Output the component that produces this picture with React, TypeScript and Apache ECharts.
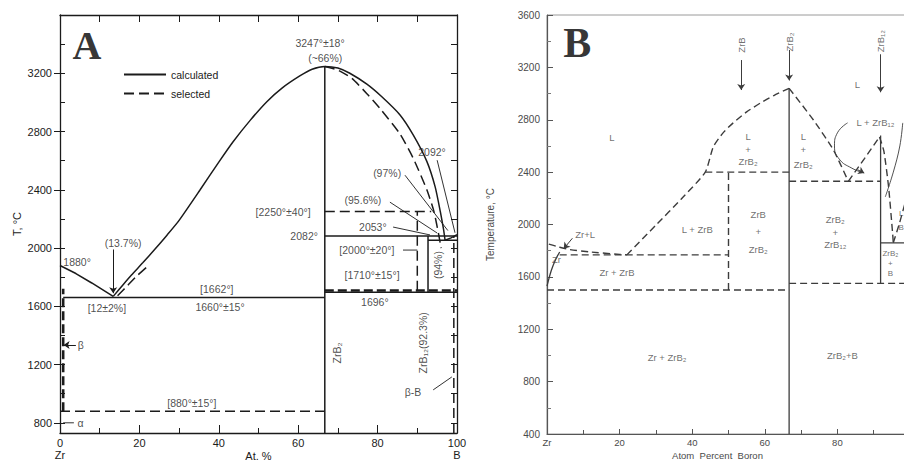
import React, { useEffect, useRef } from 'react';
import * as echarts from 'echarts';

// ---------- Panel A (Zr–B, calculated vs selected) ----------
const aXTicks = [0, 20, 40, 60, 80, 100];
const aYLabels = [800, 1200, 1600, 2000, 2400, 2800, 3200];
const aYMinor = [800, 1000, 1200, 1400, 1600, 1800, 2000, 2200, 2400, 2600, 2800, 3000, 3200, 3400];

const aCalcLeft = [[0, 1880], [4, 1825], [8, 1760], [13.4, 1668]];
const aCalcBell = [
  [13.4, 1668], [16, 1752], [18, 1815], [20.9, 1900], [24, 1995], [27, 2090], [30, 2190],
  [35.3, 2400], [40, 2590], [43.6, 2730], [48, 2880], [52.1, 3005], [56, 3100], [60.4, 3182],
  [63.5, 3228], [66.7, 3247], [70, 3236], [73, 3200], [77.3, 3125], [81, 3040], [85.6, 2915],
  [89, 2775], [92.4, 2595], [94.5, 2420], [95.8, 2250], [96.6, 2130], [97, 2053],
];
const aCalcRight = [[97, 2053], [98.5, 2070], [100, 2092]];
const aSelRight = [
  [66.7, 3247], [70, 3222], [73.5, 3165], [77.3, 3060], [81, 2945], [85.6, 2785], [89, 2615],
  [92.4, 2400], [94.2, 2250], [95.4, 2090], [96, 2000],
];
const aSelLeft = [[14.5, 1672], [17, 1742], [19.5, 1812], [22.5, 1885]];

const aSolidSegs = [
  [0.8, 1660, 66.7, 1660],
  [66.7, 730, 66.7, 3247],
  [66.7, 2082, 100, 2082],
  [66.7, 1696, 100, 1696],
  [92.7, 1696, 92.7, 2082],
  [92.7, 2053, 100, 2053],
];
const aDashedSegs = [
  [0, 880, 66.7, 880],
  [66.7, 2250, 93.5, 2250],
  [90, 1706, 90, 2250],
  [99.2, 730, 99.2, 2082],
];
const aBoldDashedSegs = [
  [66.7, 1708, 100, 1708],
  [0.8, 880, 0.8, 1720],
];
const aLeaderSegs = [
  [95, 2603, 99.5, 2105],
  [86.9, 2500, 97.7, 2120],
  [83.1, 2315, 95, 2103],
  [83.9, 2144, 93.2, 2090],
  [86.4, 1986, 90, 1986],
  [94, 1026, 98.7, 1115],
  [0.8, 800, 3.5, 800],
];
const aArrows = [
  [13.4, 1990, 13.4, 1690],
  [4, 1335, 0.9, 1335],
];
const aLabels = [
  { text: '3247°±18°', x: 65.5, y: 3406 },
  { text: '(~66%)', x: 66.8, y: 3303 },
  { text: '2092°', x: 93.7, y: 2658 },
  { text: '(97%)', x: 82.4, y: 2514 },
  { text: '(95.6%)', x: 76.3, y: 2329 },
  { text: '[2250°±40°]', x: 56.2, y: 2247 },
  { text: '2053°', x: 78.8, y: 2144 },
  { text: '2082°', x: 61.5, y: 2084 },
  { text: '[2000°±20°]', x: 77.3, y: 1986 },
  { text: '[1710°±15°]', x: 78.6, y: 1815 },
  { text: '1696°', x: 79.3, y: 1630 },
  { text: '[1662°]', x: 39.5, y: 1719 },
  { text: '1660°±15°', x: 40.3, y: 1595 },
  { text: '[12±2%]', x: 11.8, y: 1589 },
  { text: '(13.7%)', x: 15.9, y: 2034 },
  { text: '1880°', x: 4.3, y: 1904 },
  { text: '[880°±15°]', x: 33.2, y: 937 },
  { text: 'β-B', x: 88.9, y: 1012 },
  { text: 'β', x: 5.2, y: 1335 },
  { text: 'α', x: 5.2, y: 800 },
];
const aRotLabels = [
  { text: 'ZrB₂', x: 69.8, y: 1280 },
  { text: 'ZrB₁₂(92.3%)', x: 91.4, y: 1349 },
  { text: '(94%)', x: 95.2, y: 1883 },
];
const aTitle = { text: 'A', x: 6.8, y: 3392 };

// ---------- Panel B (Zr–B, assessed) ----------
const bXTicks = [0, 20, 40, 60, 80, 100];
const bYTicks = [400, 800, 1200, 1600, 2000, 2400, 2800, 3200, 3600];

const bLiquidus = [
  [22, 1768], [30, 1995], [37, 2195], [43.6, 2400], [45.8, 2592], [48.5, 2700], [51.3, 2776],
  [55, 2860], [58.8, 2928], [62.5, 2985], [66.7, 3040],
];
const bLiquidus2 = [[66.7, 3040], [73.4, 2798], [78.9, 2569], [83, 2330]];
const bLiquidus3 = [[83, 2330], [87.5, 2505], [91.6, 2669]];
const bLiquidus4 = [[91.6, 2669], [92.8, 2560], [94.1, 2287], [95.2, 1936], [95.4, 1860]];
const bLiquidus5 = [[95.4, 1860], [97, 2000], [98.5, 2150], [100, 2300]];
const bZrSolidus = [[0, 1530], [1.2, 1650], [2.5, 1740], [3.5, 1790]];
const bZrLeft = [[0.5, 1850], [3, 1830], [6, 1810], [12, 1790], [20, 1772], [22, 1768]];
const bLoopLeft = [[82.8, 2776], [80, 2700], [79.2, 2600], [80.5, 2500], [84, 2430], [87.2, 2395]];
const bLoopRight = [[98, 2776], [97.2, 2600], [95.4, 2400], [93.2, 2211]];

const bSolidSegs = [
  [66.7, 400, 66.7, 3040],
  [91.9, 1550, 91.9, 2680],
  [91.9, 1860, 100, 1860],
];
const bDashedSegs = [
  [43.6, 2400, 66.7, 2400],
  [50, 1500, 50, 2400],
  [3.5, 1768, 50, 1768],
  [0, 1500, 66.7, 1500],
  [66.7, 2330, 91.9, 2330],
  [66.7, 1550, 100, 1550],
];
const bArrows = [
  [53.5, 3256, 53.5, 3027],
  [66.7, 3333, 66.7, 3100],
  [91.9, 3300, 91.9, 3010],
  [7, 1895, 4.6, 1815],
  [85.6, 2418, 87.4, 2393],
];
const bLabels = [
  { text: 'L', x: 17.9, y: 2661 },
  { text: 'L', x: 85.5, y: 3066 },
  { text: 'L', x: 55.4, y: 2669 },
  { text: '+', x: 55.4, y: 2569 },
  { text: 'ZrB₂', x: 55.4, y: 2478 },
  { text: 'L', x: 70.6, y: 2669 },
  { text: '+', x: 70.6, y: 2569 },
  { text: 'ZrB₂', x: 70.6, y: 2460 },
  { text: 'ZrB', x: 58.2, y: 2073 },
  { text: '+', x: 58.2, y: 1943 },
  { text: 'ZrB₂', x: 58.2, y: 1806 },
  { text: 'L + ZrB', x: 41.4, y: 1959 },
  { text: 'ZrB₂', x: 79.4, y: 2035 },
  { text: '+', x: 79.4, y: 1936 },
  { text: 'ZrB₁₂', x: 79.4, y: 1844 },
  { text: 'Zr + ZrB', x: 19.3, y: 1630 },
  { text: 'Zr+L', x: 10.5, y: 1921 },
  { text: 'Zr', x: 2.6, y: 1730 },
  { text: 'Zr + ZrB₂', x: 33.1, y: 982 },
  { text: 'ZrB₂+B', x: 81.4, y: 997 },
  { text: 'L + ZrB₁₂', x: 90.5, y: 2776 },
];
const bSmallLabels = [
  { text: 'ZrB₂', x: 94.6, y: 1776 },
  { text: '+', x: 94.6, y: 1700 },
  { text: 'B', x: 94.6, y: 1622 },
  { text: 'L', x: 97.6, y: 2085 },
  { text: 'B', x: 97.6, y: 1980 },
];
const bRotLabels = [
  { text: 'ZrB', x: 53.5, y: 3371 },
  { text: 'ZrB₂', x: 66.7, y: 3394 },
  { text: 'ZrB₁₂', x: 91.9, y: 3400 },
];
const bTitle = { text: 'B', x: 8.3, y: 3386 };

const inkA = '#1b1b1b';
const inkB = '#3c3c3c';
const textB = '#4a4a4a';
const sans = '"Liberation Sans", Arial, sans-serif';
const serif = '"Liberation Serif", "Times New Roman", serif';

function segSeries(segs: number[][], xi: number, yi: number, lineStyle: any) {
  return segs.map((s) => ({
    type: 'line',
    xAxisIndex: xi,
    yAxisIndex: yi,
    data: [[s[0], s[1]], [s[2], s[3]]],
    symbol: 'none',
    silent: true,
    lineStyle,
    z: 3,
  }));
}

function curve(data: number[][], xi: number, yi: number, lineStyle: any, smooth: number, name?: string) {
  return {
    type: 'line',
    name,
    xAxisIndex: xi,
    yAxisIndex: yi,
    data,
    symbol: 'none',
    showSymbol: false,
    smooth,
    silent: true,
    lineStyle,
    itemStyle: { color: lineStyle.color },
    z: 3,
  };
}

function labelSeries(items: any[], xi: number, yi: number, label: any, rotate = 0, arrows?: number[][], arrowColor?: string) {
  const s: any = {
    type: 'scatter',
    xAxisIndex: xi,
    yAxisIndex: yi,
    symbolSize: 0,
    silent: true,
    z: 5,
    data: items.map((d) => ({ value: [d.x, d.y], label: { formatter: d.text } })),
    label: { show: true, position: 'inside', rotate, ...label },
  };
  if (arrows) {
    s.markLine = {
      silent: true,
      animation: false,
      symbolSize: 6,
      label: { show: false },
      lineStyle: { type: 'solid', width: 1, color: arrowColor },
      data: arrows.map((a) => [
        { coord: [a[0], a[1]], symbol: 'none' },
        { coord: [a[2], a[3]], symbol: 'arrow' },
      ]),
    };
  }
  return s;
}

export default function App() {
  const ref = useRef<HTMLDivElement>(null);
  useEffect(() => {
    if (!ref.current) return;
    const chart = echarts.init(ref.current, undefined, { renderer: 'svg' });
    const aSolid = { color: inkA, width: 1.5, type: 'solid' };
    const aDash = { color: inkA, width: 1.5, type: [10, 5] };
    const aBold = { color: inkA, width: 2.6, type: [9, 4] };
    const aThin = { color: inkA, width: 0.9, type: 'solid' };
    const bSolid = { color: inkB, width: 1.3, type: 'solid' };
    const bDash = { color: inkB, width: 1.4, type: [7, 4] };
    const bThin = { color: inkB, width: 0.9, type: 'solid' };
    const aText = { color: inkA, fontSize: 10.5, fontFamily: sans };
    const bText = { color: textB, fontSize: 9.5, fontFamily: sans };
    const plain = (v: number) => String(v);

    const aTickStyle = { color: inkA, width: 1 };
    const option: any = {
      animation: false,
      backgroundColor: '#ffffff',
      grid: [
        { left: 60, top: 15, width: 397, height: 418, show: false, containLabel: false, outerBoundsMode: 'none' },
        { left: 547, top: 15, width: 363, height: 419, show: true, borderColor: '#9a9a9a', borderWidth: 1, backgroundColor: 'transparent', containLabel: false, outerBoundsMode: 'none' },
      ],
      legend: {
        data: [{ name: 'calculated' }, { name: 'selected' }],
        orient: 'vertical',
        left: 118,
        top: 64,
        itemWidth: 42,
        itemHeight: 10,
        itemGap: 8,
        selectedMode: false,
        itemStyle: { opacity: 0 },
        textStyle: { color: inkA, fontSize: 10.5, fontFamily: sans },
      },
      xAxis: [
        {
          type: 'value', gridIndex: 0, position: 'bottom', min: 0, max: 100, interval: 20,
          axisLine: { show: true, onZero: false, lineStyle: { color: inkA, width: 1.3 } },
          axisTick: { show: true, inside: true, length: 8, lineStyle: aTickStyle },
          minorTick: { show: true, splitNumber: 2, length: 5, lineStyle: aTickStyle },
          splitLine: { show: false }, minorSplitLine: { show: false },
          axisLabel: {
            color: inkA, fontSize: 11, fontFamily: sans, margin: 4, lineHeight: 12,
            formatter: (v: number) => (v === 0 ? '0\nZr' : v === 100 ? '100\nB' : String(v)),
          },
          name: 'At. %', nameLocation: 'middle', nameGap: 17, nameMoveOverlap: false,
          nameTextStyle: { color: inkA, fontSize: 11, fontFamily: sans },
        },
        {
          type: 'value', gridIndex: 0, position: 'top', min: 0, max: 100, interval: 10,
          axisLine: { show: true, onZero: false, lineStyle: { color: inkA, width: 1.3 } },
          axisTick: { show: true, inside: true, length: 7, lineStyle: aTickStyle },
          axisLabel: { show: false }, splitLine: { show: false },
        },
        {
          type: 'value', gridIndex: 1, position: 'bottom', min: 0, max: 100, interval: 20,
          axisLine: { show: true, onZero: false, lineStyle: { color: '#555', width: 1.2 } },
          axisTick: { show: true, inside: true, length: 5, lineStyle: { color: '#555' } },
          minorTick: { show: true, splitNumber: 2, length: 4, lineStyle: { color: '#555' } },
          splitLine: { show: false }, minorSplitLine: { show: false },
          axisLabel: {
            color: textB, fontSize: 9.5, fontFamily: sans, margin: 3,
            formatter: (v: number) => (v === 0 ? 'Zr' : v === 100 ? '' : String(v)),
          },
          name: 'Atom  Percent  Boron', nameLocation: 'middle', nameGap: 16, nameMoveOverlap: false,
          nameTextStyle: { color: textB, fontSize: 9.5, fontFamily: sans, padding: [0, 22, 0, 0] },
        },
      ],
      yAxis: [
        {
          type: 'value', gridIndex: 0, position: 'left', min: 730, max: 3600,
          axisLine: { show: true, onZero: false, lineStyle: { color: inkA, width: 1.3 } },
          axisTick: { show: true, inside: false, length: 6, customValues: aYLabels, lineStyle: aTickStyle },
          axisLabel: { customValues: aYLabels, color: inkA, fontSize: 11, fontFamily: sans, margin: 8, formatter: plain },
          splitLine: { show: false },
          name: 'T, °C', nameLocation: 'middle', nameGap: 38, nameMoveOverlap: false,
          nameTextStyle: { color: inkA, fontSize: 11, fontFamily: sans, padding: [0, 0, 0, 0] },
        },
        {
          type: 'value', gridIndex: 0, position: 'left', min: 730, max: 3600,
          axisLine: { show: false },
          axisTick: { show: true, inside: true, length: 5, customValues: aYMinor, lineStyle: aTickStyle },
          axisLabel: { show: false }, splitLine: { show: false },
        },
        {
          type: 'value', gridIndex: 0, position: 'right', min: 730, max: 3600,
          axisLine: { show: true, onZero: false, lineStyle: { color: inkA, width: 1.3 } },
          axisTick: { show: true, inside: true, length: 6, customValues: aYMinor, lineStyle: aTickStyle },
          axisLabel: { show: false }, splitLine: { show: false },
        },
        {
          type: 'value', gridIndex: 1, position: 'left', min: 400, max: 3600, interval: 400,
          axisLine: { show: true, onZero: false, lineStyle: { color: '#555', width: 1.2 } },
          axisTick: { show: true, inside: true, length: 6, lineStyle: { color: '#555' } },
          minorTick: { show: true, splitNumber: 2, length: 4, lineStyle: { color: '#777' } },
          splitLine: { show: false }, minorSplitLine: { show: false },
          axisLabel: { color: textB, fontSize: 10, fontFamily: sans, margin: 7, formatter: plain },
          name: 'Temperature, °C', nameLocation: 'middle', nameGap: 52, nameMoveOverlap: false,
          nameTextStyle: { color: textB, fontSize: 10, fontFamily: sans, padding: [0, 0, 0, 0] },
        },
      ],
      series: [
        // Panel A
        curve(aCalcBell, 0, 0, aSolid, 0.2, 'calculated'),
        curve(aCalcLeft, 0, 0, aSolid, 0),
        curve(aCalcRight, 0, 0, aSolid, 0),
        curve(aSelRight, 0, 0, aDash, 0.2, 'selected'),
        curve(aSelLeft, 0, 0, aDash, 0.2),
        ...segSeries(aSolidSegs, 0, 0, aSolid),
        ...segSeries(aDashedSegs, 0, 0, aDash),
        ...segSeries(aBoldDashedSegs, 0, 0, aBold),
        ...segSeries(aLeaderSegs, 0, 0, aThin),
        labelSeries(aLabels, 0, 0, aText, 0, aArrows, inkA),
        labelSeries(aRotLabels, 0, 0, aText, 90),
        labelSeries([aTitle], 0, 0, { color: '#000', fontSize: 40, fontWeight: 'bold', fontFamily: serif }),
        // Panel B
        curve(bLiquidus, 2, 3, bDash, 0.2),
        curve(bLiquidus2, 2, 3, bDash, 0.2),
        curve(bLiquidus3, 2, 3, bDash, 0),
        curve(bLiquidus4, 2, 3, bDash, 0.2),
        curve(bLiquidus5, 2, 3, bDash, 0.2),
        curve(bZrSolidus, 2, 3, bSolid, 0.3),
        curve(bZrLeft, 2, 3, bDash, 0.3),
        curve(bLoopLeft, 2, 3, bThin, 0.5),
        curve(bLoopRight, 2, 3, bThin, 0.4),
        ...segSeries(bSolidSegs, 2, 3, bSolid),
        ...segSeries(bDashedSegs, 2, 3, bDash),
        labelSeries(bLabels, 2, 3, bText, 0, bArrows, inkB),
        labelSeries(bSmallLabels, 2, 3, { ...bText, fontSize: 8 }),
        labelSeries(bRotLabels, 2, 3, bText, 90),
        labelSeries([bTitle], 2, 3, { color: '#000', fontSize: 42, fontWeight: 'bold', fontFamily: serif }),
      ],
    };
    chart.setOption(option);
    return () => chart.dispose();
  }, []);
  return (
    <div
      ref={ref}
      style={{ position: 'fixed', left: 0, top: 0, width: 904, height: 463, background: '#fff', overflow: 'hidden' }}
    />
  );
}
